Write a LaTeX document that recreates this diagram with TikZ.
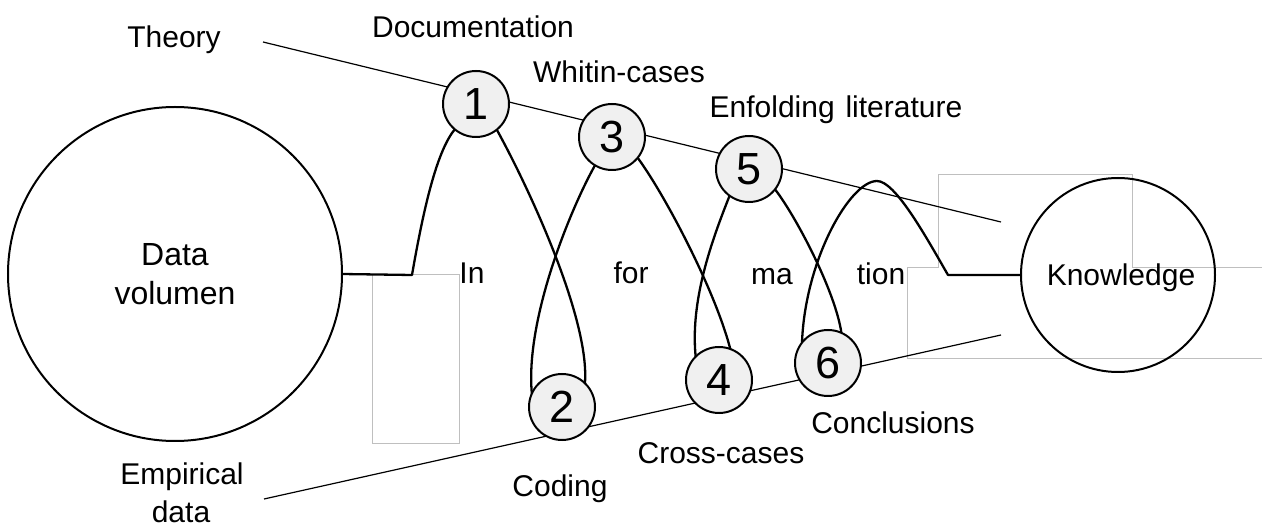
\documentclass[tikz,border=0pt]{standalone}
\usepackage{fontspec}
\setmainfont{Liberation Sans}
\pgfdeclarelayer{background}
\pgfsetlayers{background,main}
\tikzset{
  num/.style={circle, draw=black, line width=2pt, fill=black!6, minimum size=66pt,
    inner sep=0pt, outer sep=0pt, font=\fontsize{45}{45}\selectfont},
  bigc/.style={circle, draw=black, line width=2pt, inner sep=0pt, outer sep=0pt},
  lbl/.style={anchor=base, inner sep=0pt, outer sep=0pt, font=\fontsize{30}{36}\selectfont},
  biglbl/.style={lbl, font=\fontsize{32}{38}\selectfont},
  wave/.style={line width=2.3pt, line join=round},
  funnel/.style={line width=1.2pt},
  ghost/.style={draw=black!25, line width=1pt}
}
\begin{document}
\begin{tikzpicture}[x=1pt,y=-1pt]
\useasboundingbox (0,0) rectangle (1262,526);

% main circles
\node[bigc, minimum size=334pt] (dv) at (175,274) {};
\node[bigc, minimum size=194pt] (kn) at (1118,275) {};

% numbered stages
\node[num] (c1) at (476,104) {1};
\node[num] (c2) at (562,407) {2};
\node[num] (c3) at (612,137) {3};
\node[num] (c4) at (719,380) {4};
\node[num] (c5) at (749,169) {5};
\node[num] (c6) at (828,363) {6};

% funnel end points
\coordinate (thA) at (263,42);
\coordinate (thB) at (1001,222);
\coordinate (emA) at (264,499);
\coordinate (emB) at (1001,335);
\coordinate (start) at (412,275);
\coordinate (peak) at (877,181);
\coordinate (stop) at (948,275);

\begin{pgfonlayer}{background}
  % thin outlines
  \draw[ghost] (372,275) rectangle (459,444);
  \draw[ghost] (1262,359) -- (907,359) -- (907,268) -- (938,268) -- (938,175)
               -- (1132,175) -- (1132,268) -- (1262,268);
  % funnel
  \draw[funnel] (thA) -- (thB);
  \draw[funnel] (emA) -- (emB);
  % information wave
  \draw[wave] (dv.east) -- (start) .. controls (425,200) and (438,150) .. (c1.230);
  \draw[wave] (c1.309) .. controls (530,190) and (590,320) .. (c2.46);
  \draw[wave] (c2.156) .. controls (525,320) and (570,210) .. (c3.239);
  \draw[wave] (c3.321) .. controls (665,195) and (715,290) .. (c4.70);
  \draw[wave] (c4.135) .. controls (690,300) and (712,240) .. (c5.234);
  \draw[wave] (c5.322) .. controls (795,215) and (835,290) .. (c6.66);
  \draw[wave] (c6.142) .. controls (805,260) and (850,181) .. (peak)
              .. controls (895,181) and (925,235) .. (stop) -- (kn.west);
\end{pgfonlayer}

% texts
\node[biglbl] (tdata) at (175,266) {Data};
\node[biglbl] (tvol) at (175,305) {volumen};
\node[lbl] (tkn) at (1121,286) {Knowledge};
\node[lbl] (ttheory) at (174,48) {Theory};
\node[lbl] (temp) at (182,485) {Empirical};
\node[lbl] (tdat) at (181,522) {data};
\node[lbl] (l1) at (473,38) {Documentation};
\node[lbl] (l3) at (619,83) {Whitin-cases};
\node[lbl] (l5) at (836,118) {Enfolding\hspace{0.36em}literature};
\node[lbl] (l2) at (560,497) {Coding};
\node[lbl] (l4) at (721,464) {Cross-cases};
\node[lbl] (l6) at (893,434) {Conclusions};
\node[lbl] (w1) at (472,284) {In};
\node[lbl] (w2) at (631,284) {for};
\node[lbl] (w3) at (772,285) {ma};
\node[lbl] (w4) at (881,285) {tion};
\end{tikzpicture}
\end{document}
